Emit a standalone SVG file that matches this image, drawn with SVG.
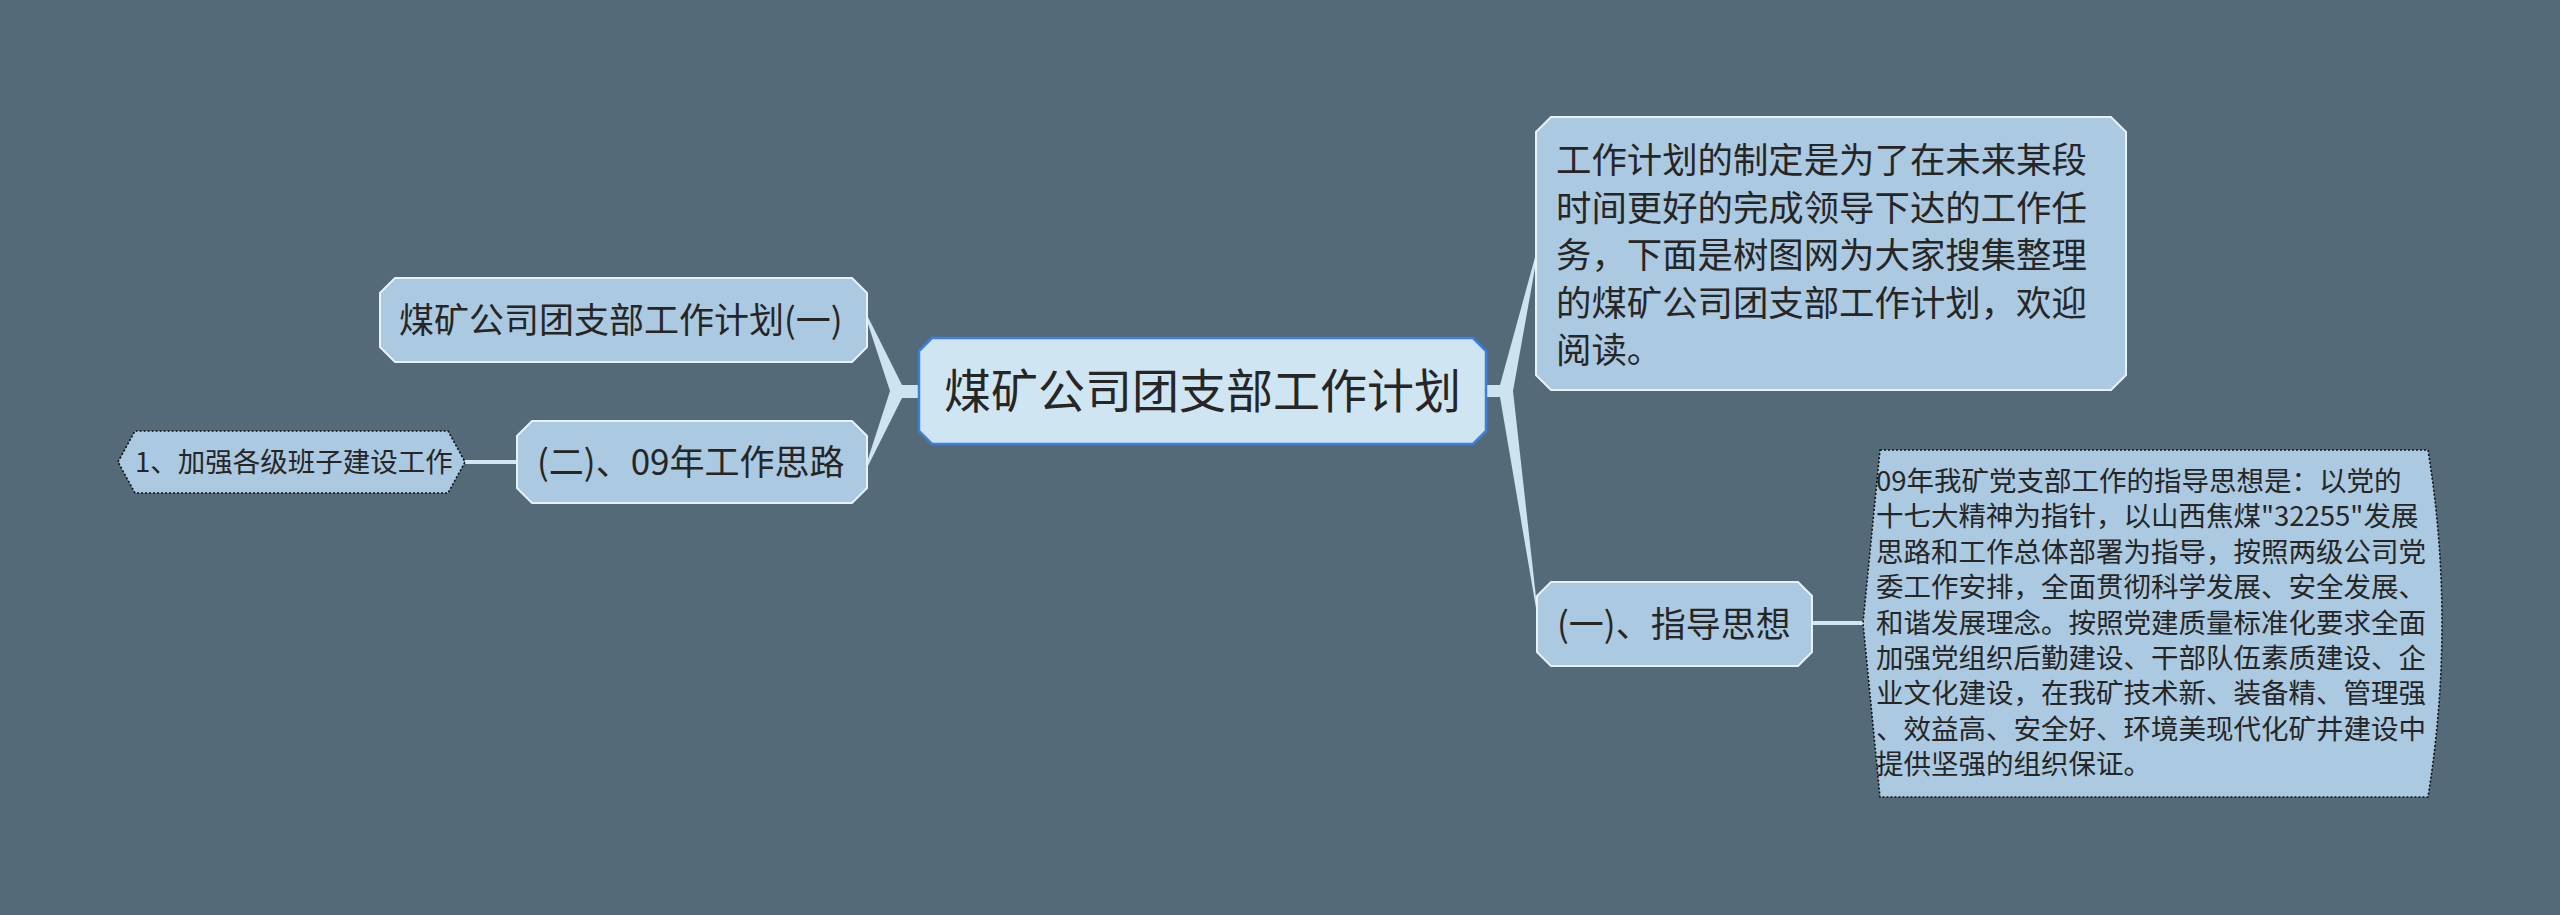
<svg xmlns="http://www.w3.org/2000/svg" width="2560" height="915" viewBox="0 0 2560 915">
<style>
.t{font-family:"Noto Sans CJK SC","Noto Sans",sans-serif;fill:#262626}
.sec{fill:#abc9e0;stroke:#e6f1f8;stroke-width:2}
.dash{fill:#abc9e0;stroke:#111;stroke-width:1.6;stroke-dasharray:2 2}
.conn{fill:#cde3f0;stroke:none}
.ln{stroke:#d3e7f3;stroke-width:4;fill:none}
</style>
<rect width="2560" height="915" fill="#546a79"/>
<g id="connectors">
<path class="conn" d="M919,385 L902,385 L868,317 L868,324 L890,391 L868,459 L868,466 L902,398 L919,398 Z"/>
<path class="conn" d="M1486,385 L1500,385 L1537,250 L1537,257 L1513,391 L1537,606 L1537,614 L1500,397 L1486,397 Z"/>
<line class="ln" x1="465" y1="462" x2="517" y2="462"/>
<line class="ln" x1="1812" y1="623" x2="1864" y2="623"/>
</g>
<g id="central">
<path d="M932,338 L1473,338 L1486,351 L1486,431 L1473,444 L932,444 L919,431 L919,351 Z" fill="#cfe5f2" stroke="#3d7fd9" stroke-width="2.5"/>
<text class="t" x="1202.5" y="408" font-size="47" text-anchor="middle">煤矿公司团支部工作计划</text>
</g>
<g id="node-intro">
<path class="sec" d="M1551,117 L2111,117 L2126,132 L2126,375 L2111,390 L1551,390 L1536,375 L1536,132 Z"/>
<text class="t" font-size="35.4" x="1556">
<tspan x="1556" y="173">工作计划的制定是为了在未来某段</tspan>
<tspan x="1556" y="220.5">时间更好的完成领导下达的工作任</tspan>
<tspan x="1556" y="268">务，下面是树图网为大家搜集整理</tspan>
<tspan x="1556" y="315.5">的煤矿公司团支部工作计划，欢迎</tspan>
<tspan x="1556" y="363">阅读。</tspan>
</text>
</g>
<g id="node-guide">
<path class="sec" d="M1551,582 L1798,582 L1812,596 L1812,652 L1798,666 L1551,666 L1537,652 L1537,596 Z"/>
<text class="t" x="1557" y="637" font-size="35">(一)、指导思想</text>
</g>
<g id="node-guide-detail">
<path class="dash" d="M1880,450 L2428,450 Q2456,623 2428,797 L1880,797 L1863,623 Z"/>
<text class="t" font-size="27.5">
<tspan x="1876" y="491">09年我矿党支部工作的指导思想是：以党的</tspan>
<tspan x="1876" y="526.4">十七大精神为指针，以山西焦煤"32255"发展</tspan>
<tspan x="1876" y="561.8">思路和工作总体部署为指导，按照两级公司党</tspan>
<tspan x="1876" y="597.2">委工作安排，全面贯彻科学发展、安全发展、</tspan>
<tspan x="1876" y="632.6">和谐发展理念。按照党建质量标准化要求全面</tspan>
<tspan x="1876" y="668">加强党组织后勤建设、干部队伍素质建设、企</tspan>
<tspan x="1876" y="703.4">业文化建设，在我矿技术新、装备精、管理强</tspan>
<tspan x="1876" y="738.8">、效益高、安全好、环境美现代化矿井建设中</tspan>
<tspan x="1876" y="774.2">提供坚强的组织保证。</tspan>
</text>
</g>
<g id="node-plan1">
<path class="sec" d="M395,278 L852,278 L867,293 L867,347 L852,362 L395,362 L380,347 L380,293 Z"/>
<text class="t" x="399" y="333" font-size="35">煤矿公司团支部工作计划(一)</text>
</g>
<g id="node-ideas">
<path class="sec" d="M532,421 L852,421 L867,436 L867,488 L852,503 L532,503 L517,488 L517,436 Z"/>
<text class="t" x="537" y="475" font-size="35">(二)、09年工作思路</text>
</g>
<g id="node-team">
<path class="dash" d="M118,462 L135,431 L448,431 L465,462 L448,493 L135,493 Z"/>
<text class="t" x="135" y="472" font-size="27.5">1、加强各级班子建设工作</text>
</g>
</svg>
